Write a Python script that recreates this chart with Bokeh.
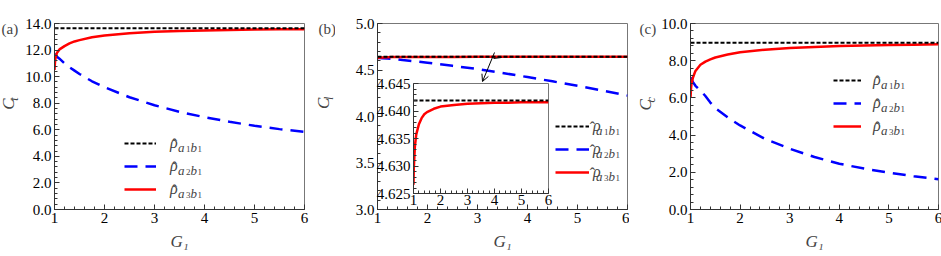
import math
from bokeh.plotting import figure
from bokeh.layouts import row, column
from bokeh.models import (Range1d, Legend, LegendItem, Label, Arrow, OpenHead,
                          SingleIntervalTicker, FixedTicker, PrintfTickFormatter)
from bokeh.embed import file_html
from bokeh.resources import INLINE

# ---------------- data ----------------
G1 = [1.0, 1.01, 1.02, 1.05, 1.1, 1.2, 1.3, 1.4, 1.5, 1.75, 2.0, 2.5, 3.0, 3.5, 4.0, 4.5, 5.0, 5.5, 6.0]
G_ENDS = [1.0, 6.0]

# panel (a): C_t
Ct_a1b1 = [13.65, 13.65]
Ct_a2b1 = [11.7, 11.68, 11.62, 11.5, 11.35, 11.0, 10.7, 10.45, 10.2, 9.65, 9.2, 8.45, 7.85, 7.35, 6.95, 6.6, 6.3, 6.05, 5.85]
Ct_a3b1 = [10.5, 11.1, 11.4, 11.8, 12.05, 12.3, 12.5, 12.65, 12.75, 12.97, 13.1, 13.27, 13.37, 13.44, 13.48, 13.51, 13.54, 13.56, 13.57]

# panel (b): C_l (also used by the inset)
Cl_a1b1 = [4.6419, 4.6419]
Cl_a2b1 = [4.630, 4.6298, 4.6295, 4.6285, 4.627, 4.623, 4.619, 4.615, 4.607, 4.594, 4.578, 4.545, 4.51, 4.468, 4.424, 4.378, 4.33, 4.279, 4.225]
Cl_a3b1 = [4.6266, 4.6295, 4.6305, 4.6335, 4.6357, 4.6376, 4.6387, 4.6394, 4.6398, 4.6404, 4.6408, 4.6411, 4.6413, 4.6414, 4.6415, 4.6415, 4.6416, 4.6416, 4.6416]

# panel (c): C_c
Cc_a1b1 = [8.96, 8.96]
Cc_a2b1 = [7.1, 7.05, 7.0, 6.85, 6.65, 6.4, 6.1, 5.75, 5.45, 4.95, 4.52, 3.8, 3.27, 2.82, 2.46, 2.2, 1.98, 1.79, 1.63]
Cc_a3b1 = [6.0, 6.5, 6.75, 7.1, 7.45, 7.78, 7.95, 8.07, 8.17, 8.33, 8.45, 8.59, 8.68, 8.74, 8.79, 8.82, 8.84, 8.86, 8.88]

# inset axis ticks
INSET_YTICKS = [4.625, 4.630, 4.635, 4.640, 4.645]
INSET_YMINOR = [4.626, 4.627, 4.628, 4.629, 4.631, 4.632, 4.633, 4.634, 4.636, 4.637, 4.638, 4.639,
                4.641, 4.642, 4.643, 4.644]

PANEL_TAGS = ["(a)", "(b)", "(c)"]
Y_NAMES = [("C", "t"), ("C", "l"), ("C", "c")]
X_LABEL = "G\u2081"
RHO = "\u03c1"
HAT = "\u02c6"
SUB_LETTERS = [("a", "1", "b", "1"), ("a", "2", "b", "1"), ("a", "3", "b", "1")]

SERIF = "'Liberation Serif', serif"
AX = "#333333"
FRAME = "#777777"
H = 256


def style_axes(p, yticker, yfmt, xstand=3):
    p.grid.visible = False
    p.xaxis.ticker = SingleIntervalTicker(interval=1, num_minor_ticks=5)
    p.yaxis.ticker = yticker
    p.yaxis.formatter = PrintfTickFormatter(format=yfmt)
    for ax in (p.xaxis[0], p.yaxis[0]):
        ax.major_tick_in = 5
        ax.major_tick_out = 0
        ax.minor_tick_in = 3
        ax.minor_tick_out = 0
        ax.major_label_text_font = SERIF
        ax.major_label_text_font_size = "15px"
        ax.major_label_text_color = "black"
        ax.axis_line_color = AX
        ax.major_tick_line_color = AX
        ax.minor_tick_line_color = AX
    p.yaxis.major_label_standoff = 3
    p.xaxis.major_label_standoff = xstand
    p.outline_line_color = FRAME


def make_panel(left, right, fw, yr, yint, yfmt):
    p = figure(frame_width=fw, frame_height=186, x_range=Range1d(1, 6), y_range=Range1d(*yr),
               min_border_left=left, min_border_right=right, min_border_top=23, min_border_bottom=47,
               output_backend="svg", toolbar_location=None)
    style_axes(p, SingleIntervalTicker(interval=yint, num_minor_ticks=5), yfmt)
    p.xaxis.axis_label = X_LABEL
    p.xaxis.axis_label_text_font = SERIF
    p.xaxis.axis_label_text_font_style = "italic"
    p.xaxis.axis_label_text_font_size = "17px"
    p.xaxis.axis_label_standoff = 6
    return p


def draw_series(p, black, blue, red):
    rb = p.line(G1, blue, line_color="#0000ff", line_width=2.5, line_dash="13 8")
    rr = p.line(G1, red, line_color="#ff0000", line_width=2.5)
    rk = p.line(G_ENDS, black, line_color="black", line_width=2, line_dash="4 2")
    return rk, rb, rr


def add_legend(p, rends, left, offx, offy, gw, stand):
    gh = 20
    items = [LegendItem(label=RHO, renderers=[r]) for r in rends]
    lg = Legend(items=items, location=(offx, offy), padding=0, margin=0, spacing=3,
                glyph_width=gw, glyph_height=gh, label_height=gh, label_standoff=stand,
                border_line_color=None, background_fill_alpha=0.0,
                label_text_font=SERIF, label_text_font_style="italic",
                label_text_font_size="16px", label_text_baseline="alphabetic")
    p.add_layout(lg, "center")
    # hat and subscripts of the legend labels (canvas pixels of this figure)
    top = 23 + 186 - offy - (3 * gh + 6)
    tx0 = left + offx + gw + stand
    for i, (s1, n1, s2, n2) in enumerate(SUB_LETTERS):
        cy = top + gh / 2 + i * (gh + 3)
        p.add_layout(Label(x=tx0 + 5, y=cy + 0.5, x_units="canvas", y_units="canvas", text=HAT,
                           text_font=SERIF, text_font_size="16px",
                           text_baseline="alphabetic", text_align="center"))
        parts = [(s1, 0, 4, "italic", "13px"), (n1, 8, 5.5, "normal", "9px"),
                 (s2, 12.5, 4, "italic", "13px"), (n2, 19.5, 5.5, "normal", "9px")]
        for txt, dx, dy, style, size in parts:
            p.add_layout(Label(x=tx0 + 8.5 + dx, y=cy + dy, x_units="canvas", y_units="canvas", text=txt,
                               text_font=SERIF, text_font_style=style, text_font_size=size,
                               text_baseline="alphabetic", text_align="left"))


def label_strip(width, tag, tagx, yname, cx, cy):
    s = figure(width=width, height=H, x_range=Range1d(0, width), y_range=Range1d(H, 0),
               x_axis_location=None, y_axis_location=None, min_border=0,
               output_backend="svg", toolbar_location=None)
    s.grid.visible = False
    s.outline_line_color = None
    s.add_layout(Label(x=tagx, y=7, text=tag, text_font=SERIF, text_font_size="15px",
                       text_baseline="middle", text_align="left"))
    s.add_layout(Label(x=cx, y=cy, text=yname[0], angle=math.pi / 2,
                       text_font=SERIF, text_font_style="italic", text_font_size="17px",
                       text_baseline="middle", text_align="center"))
    s.add_layout(Label(x=cx + 5.5, y=cy - 7, text=yname[1], angle=math.pi / 2,
                       text_font=SERIF, text_font_style="italic", text_font_size="12px",
                       text_baseline="middle", text_align="center"))
    return s


# ---------------- panel (a) ----------------
la = label_strip(22, PANEL_TAGS[0], 1, Y_NAMES[0], 7.5, 111)
pa = make_panel(31, 8, 250, (0, 14), 2, "%.1f")
ra = draw_series(pa, Ct_a1b1, Ct_a2b1, Ct_a3b1)
add_legend(pa, ra, 31, 70, 10, 32, 14)

# ---------------- panel (b) ----------------
lb = label_strip(23, PANEL_TAGS[1], 6, Y_NAMES[1], 11, 110)
pb = make_panel(36, 8, 250, (3, 5), 0.5, "%.1f")
rbb = draw_series(pb, Cl_a1b1, Cl_a2b1, Cl_a3b1)
add_legend(pb, rbb, 36, 178, 27, 34, 4)
pb.add_layout(Arrow(x_start=159, y_start=52, x_end=147, y_end=81, start_units="canvas", end_units="canvas",
                    line_color="black", line_width=1, end=OpenHead(size=7, line_width=1, line_color="black")))
pb.add_layout(Arrow(x_start=158, y_start=58, x_end=166, y_end=57, start_units="canvas", end_units="canvas",
                    line_color="black", line_width=1, end=None))

# inset of panel (b)
pin = figure(frame_width=135, frame_height=110, x_range=Range1d(1, 6), y_range=Range1d(4.625, 4.645),
             min_border_left=42, min_border_right=6, min_border_top=12, min_border_bottom=22,
             output_backend="svg", toolbar_location=None)
style_axes(pin, FixedTicker(ticks=INSET_YTICKS, minor_ticks=INSET_YMINOR), "%.3f", xstand=1)
pin.background_fill_color = "white"
pin.border_fill_color = None
pin.line(G1, Cl_a3b1, line_color="#ff0000", line_width=2.5)
pin.line(G_ENDS, Cl_a1b1, line_color="black", line_width=2, line_dash="4 2")
pin.margin = (-185, 0, 0, 36)

# ---------------- panel (c) ----------------
lc = label_strip(29, PANEL_TAGS[2], 10, Y_NAMES[2], 16, 112)
pc = make_panel(31, 5, 248, (0, 10), 2, "%.1f")
rc = draw_series(pc, Cc_a1b1, Cc_a2b1, Cc_a3b1)
add_legend(pc, rc, 31, 143, 73, 28, 12)

layout = row(la, pa, lb, column(pb, pin), lc, pc)
open("out.html", "w").write(file_html(layout, INLINE))
